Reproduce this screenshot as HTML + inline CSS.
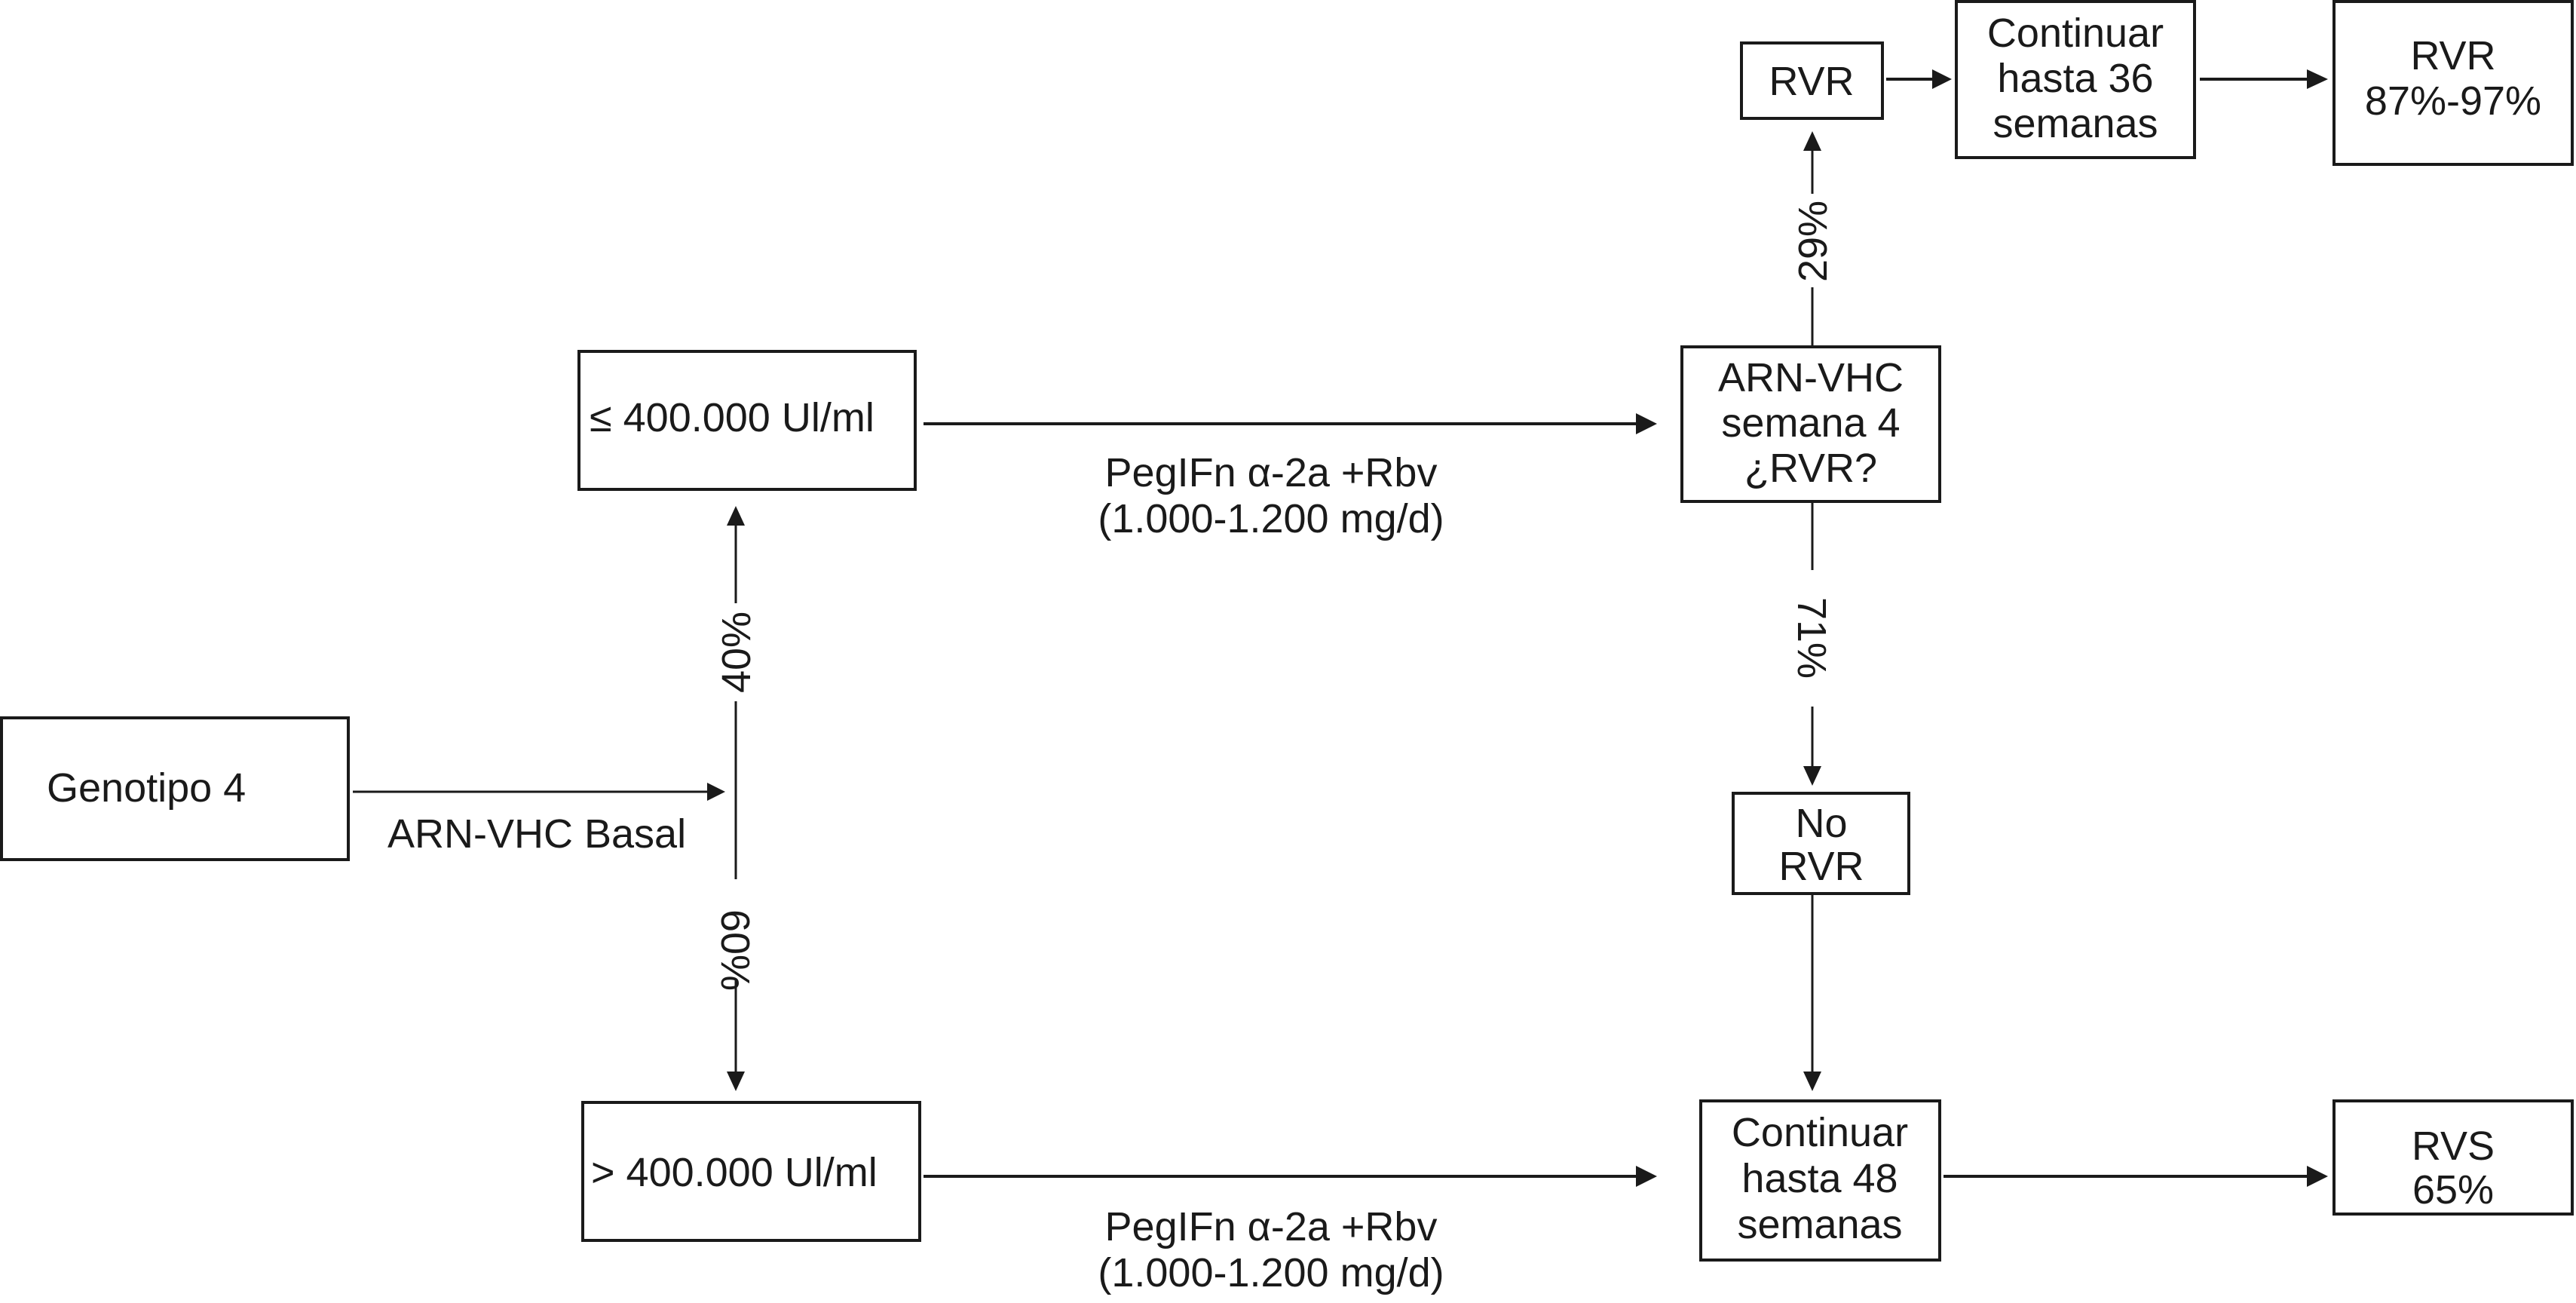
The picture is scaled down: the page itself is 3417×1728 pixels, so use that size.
<!DOCTYPE html>
<html><head><meta charset="utf-8"><style>html,body{margin:0;padding:0;background:#fff}svg{display:block}</style></head>
<body>
<svg width="3417" height="1728" viewBox="0 0 3417 1728" xmlns="http://www.w3.org/2000/svg" font-family="Liberation Sans, Arial, sans-serif" font-size="52" fill="#1a1a1a">
<g fill="none" stroke="#1a1a1a" stroke-width="4">
<rect x="2" y="952" width="460" height="188"/>
<rect x="768" y="466" width="446" height="183"/>
<rect x="773" y="1462" width="447" height="183"/>
<rect x="2231" y="460" width="342" height="205"/>
<rect x="2310" y="57" width="187" height="100"/>
<rect x="2595" y="2" width="316" height="207"/>
<rect x="3096" y="2" width="316" height="216"/>
<rect x="2299" y="1052" width="233" height="133"/>
<rect x="2256" y="1460" width="317" height="211"/>
<rect x="3096" y="1460" width="316" height="150"/>
</g>
<g stroke="#1a1a1a" stroke-width="4" fill="#1a1a1a">
<path d="M468 1050 H938" stroke-width="3"/><path d="M938 1038 L962 1050 L938 1062z" stroke="none"/>
<path d="M976 930 V1166 M976 800 V697 M976 1300 V1421" stroke-width="3"/>
<path d="M964 697 L976 671 L988 697z M964 1421 L976 1447 L988 1421z" stroke="none"/>
<path d="M1225 562 H2170"/><path d="M2170 548 L2198 562 L2170 576z" stroke="none"/>
<path d="M1225 1560 H2170"/><path d="M2170 1546 L2198 1560 L2170 1574z" stroke="none"/>
<path d="M2404 458 V381 M2404 257 V200 M2404 665 V756 M2404 937 V1016 M2404 1185 V1421" stroke-width="3"/>
<path d="M2392 200 L2404 174 L2416 200z M2392 1016 L2404 1042 L2416 1016z M2392 1421 L2404 1447 L2416 1421z" stroke="none"/>
<path d="M2502 105 H2563"/><path d="M2563 92 L2589 105 L2563 118z" stroke="none"/>
<path d="M2918 105 H3060"/><path d="M3060 92 L3088 105 L3060 118z" stroke="none"/>
<path d="M2578 1560 H3060"/><path d="M3060 1546 L3088 1560 L3060 1574z" stroke="none"/>
</g>
<g stroke="none">
<text x="62" y="1063" font-size="54">Genotipo 4</text>
<text x="514" y="1124" font-size="54">ARN-VHC Basal</text>
<text x="782" y="572" font-size="54">≤ 400.000 Ul/ml</text>
<text x="784" y="1573" font-size="54">&gt; 400.000 Ul/ml</text>
<text transform="translate(995,865) rotate(-90)" text-anchor="middle" font-size="54">40%</text>
<text transform="translate(957,1260) rotate(90)" text-anchor="middle" font-size="54">60%</text>
<text transform="translate(2423,320) rotate(-90)" text-anchor="middle" font-size="54">29%</text>
<text transform="translate(2385,846) rotate(90)" text-anchor="middle" font-size="54">71%</text>
<g text-anchor="middle" font-size="54">
<text x="1686" y="645">PegIFn α-2a +Rbv</text>
<text x="1686" y="706">(1.000-1.200 mg/d)</text>
<text x="1686" y="1645">PegIFn α-2a +Rbv</text>
<text x="1686" y="1706">(1.000-1.200 mg/d)</text>
<text x="2402" y="519">ARN-VHC</text>
<text x="2402" y="579">semana 4</text>
<text x="2402" y="639">¿RVR?</text>
<text x="2403" y="126">RVR</text>
<text x="2753" y="62">Continuar</text>
<text x="2753" y="122">hasta 36</text>
<text x="2753" y="182">semanas</text>
<text x="3254" y="92">RVR</text>
<text x="3254" y="152">87%-97%</text>
<text x="2416" y="1110">No</text>
<text x="2416" y="1167">RVR</text>
<text x="2414" y="1520">Continuar</text>
<text x="2414" y="1581">hasta 48</text>
<text x="2414" y="1642">semanas</text>
<text x="3254" y="1538">RVS</text>
<text x="3254" y="1596">65%</text>
</g>
</g>
</svg>
</body></html>
